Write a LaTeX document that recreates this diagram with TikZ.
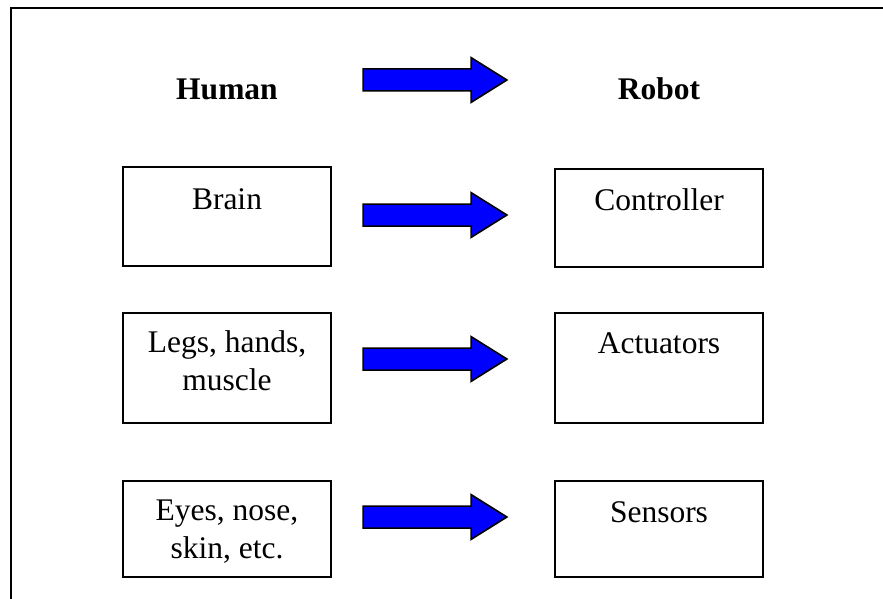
\documentclass[tikz,border=0pt]{standalone}
\usepackage{fontspec}
\setmainfont{Liberation Serif}
\usetikzlibrary{calc}
\tikzset{
  box/.style={draw=black, line width=1.3pt, rectangle, inner sep=0pt},
  txt/.style={font=\fontsize{31.5}{37.5}\selectfont, align=center, inner sep=0pt, anchor=base},
  head/.style={font=\fontsize{31.5}{37.5}\selectfont\bfseries, inner sep=0pt, anchor=base},
  blockarrow/.style={fill={rgb,255:red,0;green,0;blue,255}, draw=black, line width=1.5pt, line join=miter}
}
\newcommand{\blockarr}[1]{%
  \draw[blockarrow] ($(#1)+(0,-11)$) -- ($(#1)+(108,-11)$) -- ($(#1)+(108,-22.5)$) -- ($(#1)+(144,0)$)
    -- ($(#1)+(108,22.5)$) -- ($(#1)+(108,11)$) -- ($(#1)+(0,11)$) -- cycle;}
\begin{document}
\begin{tikzpicture}[x=1pt,y=-1pt]
\useasboundingbox (0,0) rectangle (883,599);
\draw[line width=1.6pt] (11,599) -- (11,8) -- (883,8);

\node[head] (human) at (227,100) {Human};
\node[head] (robot) at (659,100) {Robot};

% left boxes
\node[box, minimum width=208pt, minimum height=99pt] (brain) at (227,216.5) {};
\node[box, minimum width=208pt, minimum height=110pt] (legs) at (227,368) {};
\node[box, minimum width=208pt, minimum height=96pt] (eyes) at (227,529) {};
% right boxes
\node[box, minimum width=208pt, minimum height=98pt] (ctrl) at (659,218) {};
\node[box, minimum width=208pt, minimum height=110pt] (act) at (659,368) {};
\node[box, minimum width=208pt, minimum height=96pt] (sens) at (659,529) {};

\node[txt] (tbrain) at (227,209) {Brain};
\node[txt] (tlegs) at (227,390) {Legs, hands,\\muscle};
\node[txt] (teyes) at (227,558) {Eyes, nose,\\skin, etc.};
\node[txt] (tctrl) at (659,210) {Controller};
\node[txt] (tact) at (659,353) {Actuators};
\node[txt] (tsens) at (659,522) {Sensors};

\coordinate (a1) at (363,80);
\coordinate (a2) at (363,215);
\coordinate (a3) at (363,359);
\coordinate (a4) at (363,517);
\blockarr{a1}
\blockarr{a2}
\blockarr{a3}
\blockarr{a4}
\end{tikzpicture}
\end{document}
